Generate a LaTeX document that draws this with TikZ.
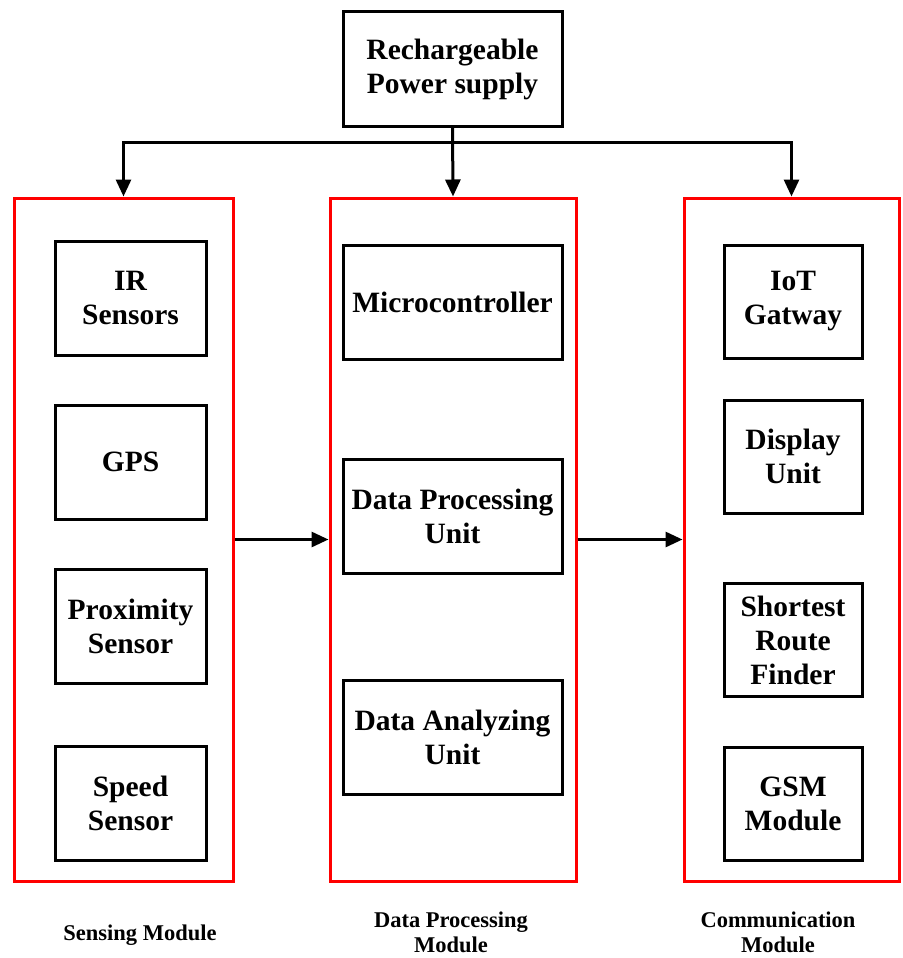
\documentclass[tikz,border=0pt]{standalone}
\usepackage{fontspec}
\setmainfont{Liberation Serif}
\usetikzlibrary{arrows.meta}
\begin{document}
\begin{tikzpicture}[x=1pt,y=-1pt,
  unit/.style={draw=black,line width=3pt,align=center,inner sep=0pt,
    font=\bfseries\fontsize{29.5}{34}\selectfont},
  module/.style={draw=red,line width=3pt,inner sep=0pt,
    minimum height=683pt},
  caption/.style={align=center,inner sep=0pt,font=\bfseries\fontsize{22.5}{25}\selectfont},
  wire/.style={line width=3pt,line cap=rect},
  arr/.style={line width=3pt,-{Triangle[length=17pt,width=15pt]}}]
\useasboundingbox (0,0) rectangle (902,958);

% power source
\node[unit,minimum width=219pt,minimum height=114pt] (power) at (452.5,69)
  {Rechargeable\\Power supply};

% the three module frames
\node[module,minimum width=219pt] (sens) at (123.5,539.5) {};
\node[module,minimum width=246pt] (proc) at (453,539.5) {};
\node[module,minimum width=215pt] (comm) at (791.5,539.5) {};

% sensing units
\begin{scope}[every node/.style={unit,minimum width=151pt,minimum height=114pt}]
  \node (ir)    at (130.5,298) {IR\\Sensors};
  \node (gps)   at (130.5,462) {GPS};
  \node (prox)  at (130.5,626) {Proximity\\Sensor};
  \node (speed) at (130.5,803) {Speed\\Sensor};
\end{scope}

% processing units
\begin{scope}[every node/.style={unit,minimum width=219pt,minimum height=114pt}]
  \node (mcu) at (452.5,302) {Microcontroller};
  \node (dpu) at (452.5,516) {Data Processing\\Unit};
  \node (dau) at (452.5,737) {Data Analyzing\\Unit};
\end{scope}

% communication units
\begin{scope}[every node/.style={unit,minimum width=138pt,minimum height=113pt}]
  \node (iot)   at (793,301.5) {IoT\\Gatway};
  \node (disp)  at (793,456.5) {Display\\Unit};
  \node (route) at (793,640)   {Shortest\\Route\\Finder};
  \node (gsm)   at (793,803.5) {GSM\\Module};
\end{scope}

% power distribution bus
\coordinate (bus) at (0,142);
\draw[wire] (sens.north |- bus) -- (comm.north |- bus);
\draw[arr] (sens.north |- bus) -- (sens.north);
\draw[arr] (power.south) -- (proc.north);
\draw[arr] (comm.north |- bus) -- (comm.north);

% data flow between modules
\draw[arr] (sens.east) -- (proc.west);
\draw[arr] (proc.east) -- (comm.west);

% module captions
\node[caption] (capS) at (140,935) {Sensing Module};
\node[caption] (capP) at (451,932) {Data Processing\\Module};
\node[caption] (capC) at (778,932) {Communication\\Module};
\end{tikzpicture}
\end{document}
